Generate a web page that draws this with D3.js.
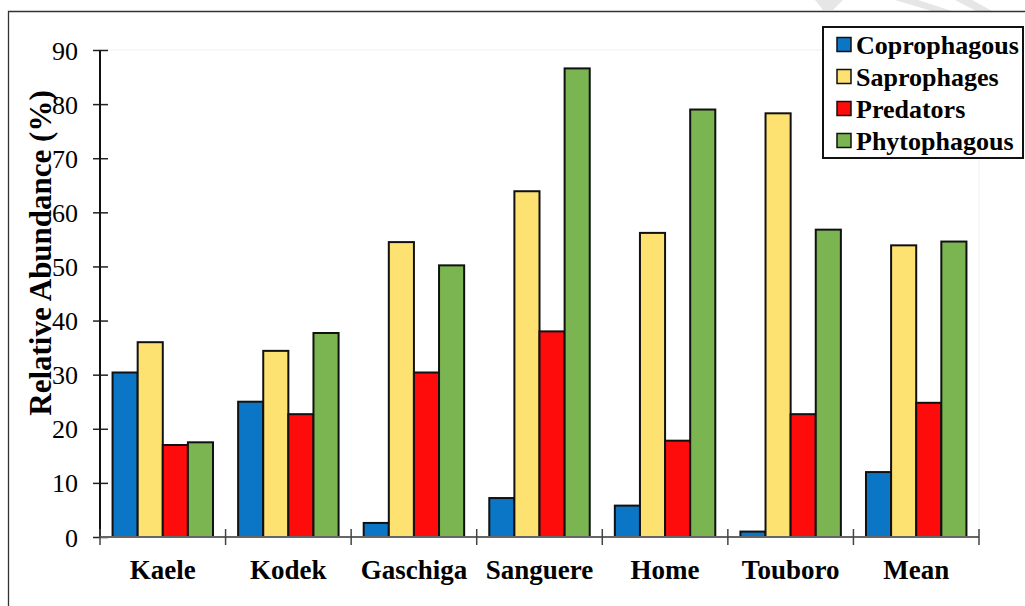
<!DOCTYPE html>
<html>
<head>
<meta charset="utf-8">
<script src="https://cdn.jsdelivr.net/npm/d3@7"></script>
<style>
  html, body { margin: 0; padding: 0; background: #fff; }
  svg { display: block; }
</style>
</head>
<body>
<svg id="chart" width="1025" height="606"></svg>
<script>
// Sites along the x axis
const sites = ["Kaele", "Kodek", "Gaschiga", "Sanguere", "Home", "Touboro", "Mean"];
// Feeding guilds (series)
const guilds = ["Coprophagous", "Saprophages", "Predators", "Phytophagous"];
const guildColors = ["#0b76c6", "#fde171", "#fe0c0c", "#7ab551"];
// Relative abundance (%) per guild, one value per site
const coprophagous = [30.4, 25.0, 2.6, 7.2, 5.8, 1.0, 12.0];
const saprophages  = [36.0, 34.4, 54.5, 63.9, 56.2, 78.3, 53.9];
const predators    = [17.0, 22.7, 30.4, 38.0, 17.8, 22.7, 24.8];
const phytophagous = [17.5, 37.7, 50.2, 86.6, 79.0, 56.8, 54.6];
const yTicks = [0, 10, 20, 30, 40, 50, 60, 70, 80, 90];
const yLabel = "Relative Abundance (%)";

const seriesValues = [coprophagous, saprophages, predators, phytophagous];
const rows = sites.map((s, i) => ({ site: s, values: guilds.map((g, k) => ({ guild: g, k, v: seriesValues[k][i] })) }));

const svg = d3.select("#chart");
const font = "'Liberation Serif', 'Times New Roman', serif";

// faint background stripes in the upper right corner
const stripes = [
  [[815, 0], [843, 0], [833, 10], [823, 10]],
  [[895, 0], [918, 0], [955, 12], [935, 12]],
  [[955, 0], [972, 0], [994, 12], [978, 12]]
];
svg.append("g").selectAll("path").data(stripes).join("path")
  .attr("d", d => d3.line()(d) + "Z")
  .attr("fill", "#e6e6e6");

// outer frame
svg.append("path")
  .attr("d", "M8.5,606 L8.5,11.5 L1025,11.5")
  .attr("fill", "none").attr("stroke", "#333").attr("stroke-width", 1.3);

const plot = { left: 100, right: 979, top: 50, bottom: 537 };

const x0 = d3.scaleBand().domain(sites).range([plot.left, plot.right]).paddingInner(0).paddingOuter(0);
const x1 = d3.scaleBand().domain(guilds).range([0, x0.bandwidth()]).paddingInner(0).paddingOuter(0.5);
const y = d3.scaleLinear().domain([0, 90]).range([plot.bottom, plot.top]);
const color = d3.scaleOrdinal().domain(guilds).range(guildColors);

// very light plot-area outline
svg.append("rect")
  .attr("x", plot.left).attr("y", plot.top)
  .attr("width", plot.right - plot.left).attr("height", plot.bottom - plot.top)
  .attr("fill", "none").attr("stroke", "#f1f1f1").attr("stroke-width", 1);

// bars
const groups = svg.append("g").selectAll("g").data(rows).join("g")
  .attr("transform", d => `translate(${x0(d.site)},0)`);
groups.selectAll("rect").data(d => d.values).join("rect")
  .attr("x", d => x1(d.guild))
  .attr("y", d => y(d.v))
  .attr("width", x1.bandwidth())
  .attr("height", d => y(0) - y(d.v))
  .attr("fill", d => color(d.guild))
  .attr("stroke", "#111")
  .attr("stroke-width", 2);

// y axis
const yAxis = d3.axisLeft(y).tickValues(yTicks).tickSize(0).tickPadding(0);
const gy = svg.append("g").attr("transform", `translate(${plot.left},0)`).call(yAxis);
gy.select(".domain").remove();
gy.selectAll(".tick text")
  .attr("x", -22).attr("dy", "0.35em")
  .attr("font-family", font).attr("font-size", 26).attr("fill", "#000");
gy.selectAll(".tick").append("line")
  .attr("x1", -7).attr("x2", 8).attr("stroke", "#222").attr("stroke-width", 1.5);
gy.append("line").attr("x1", 0).attr("x2", 0).attr("y1", y(90)).attr("y2", y(0))
  .attr("stroke", "#111").attr("stroke-width", 2);

// x axis
const gx = svg.append("g").attr("transform", `translate(0,${plot.bottom})`)
  .call(d3.axisBottom(x0).tickSize(0).tickPadding(0));
gx.select(".domain").remove();
gx.selectAll(".tick text")
  .attr("y", 42).attr("dy", null)
  .attr("font-family", font).attr("font-size", 27).attr("font-weight", "bold").attr("fill", "#000");
const edges = sites.map(s => x0(s)).concat([x0(sites[sites.length - 1]) + x0.bandwidth()]);
gx.append("line").attr("x1", plot.left).attr("x2", plot.right).attr("y1", 0).attr("y2", 0)
  .attr("stroke", "#666").attr("stroke-width", 2);
gx.selectAll("line.edge").data(edges).join("line").attr("class", "edge")
  .attr("x1", d => d).attr("x2", d => d).attr("y1", -8).attr("y2", 8)
  .attr("stroke", "#444").attr("stroke-width", 1.5);

// y axis title
svg.append("text")
  .attr("transform", `translate(51,253) rotate(-90)`)
  .attr("text-anchor", "middle")
  .attr("font-family", font).attr("font-size", 31).attr("font-weight", "bold")
  .text(yLabel);

// legend
const lg = svg.append("g").attr("transform", "translate(823,27)");
lg.append("rect").attr("x", 0).attr("y", 0).attr("width", 200).attr("height", 131)
  .attr("fill", "#fff").attr("stroke", "#111").attr("stroke-width", 2);
const items = lg.selectAll("g.item").data(guilds).join("g").attr("class", "item")
  .attr("transform", (d, i) => `translate(0,${17.5 + i * 32})`);
items.append("rect").attr("x", 14).attr("y", -7).attr("width", 14).attr("height", 14)
  .attr("fill", d => color(d)).attr("stroke", "#111").attr("stroke-width", 1.5);
items.append("text").attr("x", 33).attr("dy", "0.35em")
  .attr("font-family", font).attr("font-size", 26).attr("font-weight", "bold")
  .text(d => d);
</script>
</body>
</html>
